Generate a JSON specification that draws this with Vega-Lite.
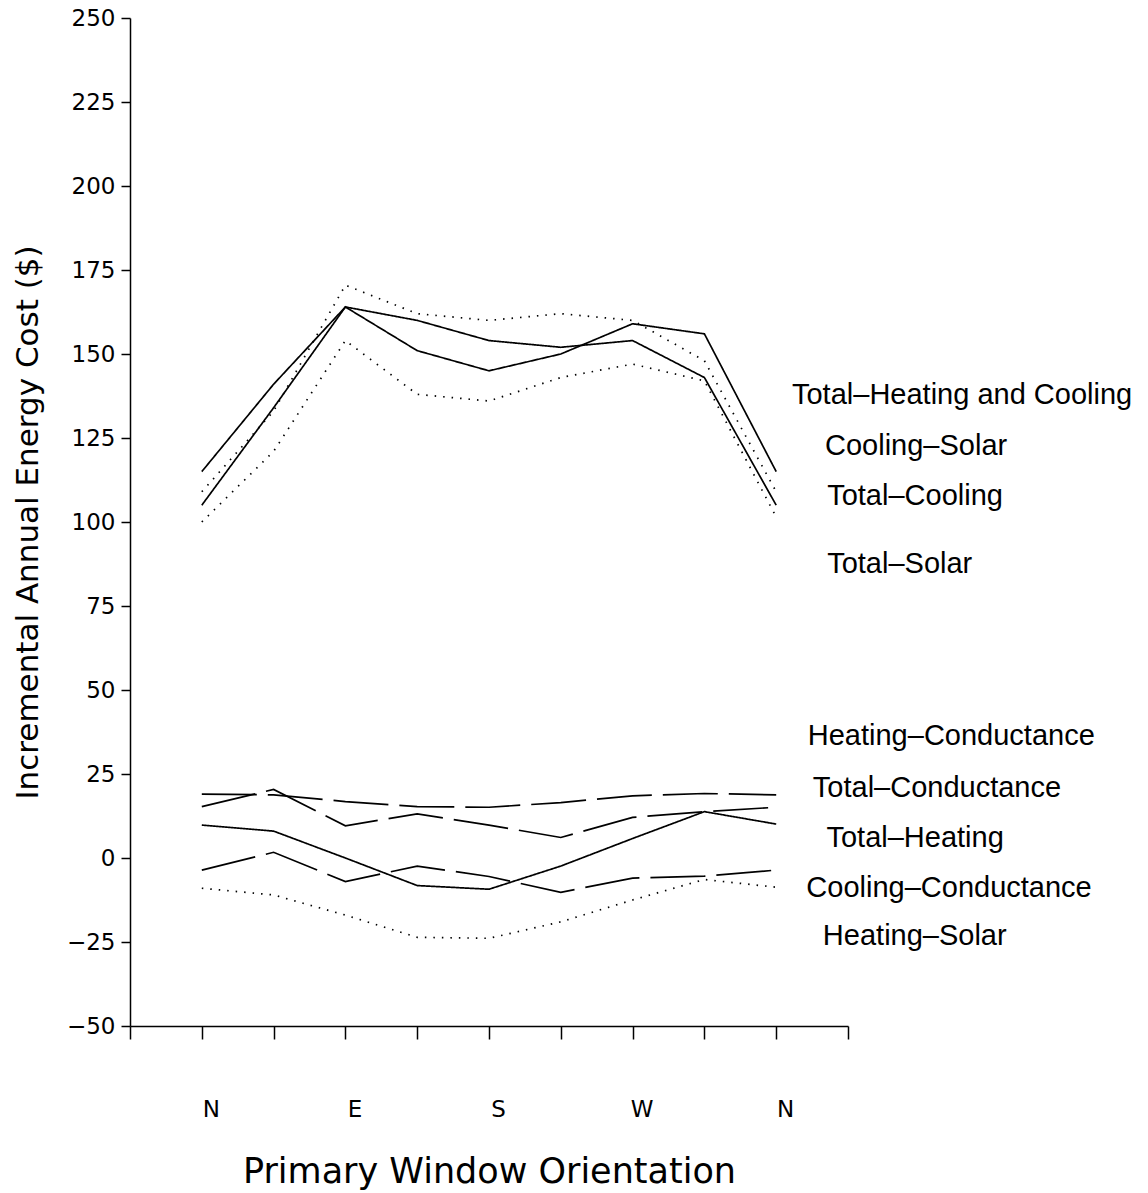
{
  "$schema": "https://vega.github.io/schema/vega-lite/v6.json",
  "width": 718,
  "height": 1008,
  "autosize": "none",
  "padding": {"left": 130, "top": 18, "right": 300, "bottom": 167},
  "background": "white",
  "config": {
    "view": {"stroke": null},
    "axis": {"grid": false, "domainColor": "black", "tickColor": "black", "labelColor": "black", "titleColor": "black", "titleFontWeight": "normal"}
  },
  "datasets": {
    "series": [
      {"series": "Total–Heating and Cooling", "dir": "N", "o": 0, "cost": 115},
      {"series": "Total–Heating and Cooling", "dir": "NE", "o": 1, "cost": 141},
      {"series": "Total–Heating and Cooling", "dir": "E", "o": 2, "cost": 164},
      {"series": "Total–Heating and Cooling", "dir": "SE", "o": 3, "cost": 151},
      {"series": "Total–Heating and Cooling", "dir": "S", "o": 4, "cost": 145},
      {"series": "Total–Heating and Cooling", "dir": "SW", "o": 5, "cost": 150},
      {"series": "Total–Heating and Cooling", "dir": "W", "o": 6, "cost": 159},
      {"series": "Total–Heating and Cooling", "dir": "NW", "o": 7, "cost": 156},
      {"series": "Total–Heating and Cooling", "dir": "N", "o": 8, "cost": 115},
      {"series": "Total–Cooling", "dir": "N", "o": 0, "cost": 105},
      {"series": "Total–Cooling", "dir": "NE", "o": 1, "cost": 134},
      {"series": "Total–Cooling", "dir": "E", "o": 2, "cost": 164},
      {"series": "Total–Cooling", "dir": "SE", "o": 3, "cost": 160},
      {"series": "Total–Cooling", "dir": "S", "o": 4, "cost": 154},
      {"series": "Total–Cooling", "dir": "SW", "o": 5, "cost": 152},
      {"series": "Total–Cooling", "dir": "W", "o": 6, "cost": 154},
      {"series": "Total–Cooling", "dir": "NW", "o": 7, "cost": 143},
      {"series": "Total–Cooling", "dir": "N", "o": 8, "cost": 105},
      {"series": "Cooling–Solar", "dir": "N", "o": 0, "cost": 109},
      {"series": "Cooling–Solar", "dir": "NE", "o": 1, "cost": 133},
      {"series": "Cooling–Solar", "dir": "E", "o": 2, "cost": 170.5},
      {"series": "Cooling–Solar", "dir": "SE", "o": 3, "cost": 162},
      {"series": "Cooling–Solar", "dir": "S", "o": 4, "cost": 160},
      {"series": "Cooling–Solar", "dir": "SW", "o": 5, "cost": 162},
      {"series": "Cooling–Solar", "dir": "W", "o": 6, "cost": 160},
      {"series": "Cooling–Solar", "dir": "NW", "o": 7, "cost": 148},
      {"series": "Cooling–Solar", "dir": "N", "o": 8, "cost": 109},
      {"series": "Total–Solar", "dir": "N", "o": 0, "cost": 100},
      {"series": "Total–Solar", "dir": "NE", "o": 1, "cost": 121},
      {"series": "Total–Solar", "dir": "E", "o": 2, "cost": 154},
      {"series": "Total–Solar", "dir": "SE", "o": 3, "cost": 138},
      {"series": "Total–Solar", "dir": "S", "o": 4, "cost": 136},
      {"series": "Total–Solar", "dir": "SW", "o": 5, "cost": 143},
      {"series": "Total–Solar", "dir": "W", "o": 6, "cost": 147},
      {"series": "Total–Solar", "dir": "NW", "o": 7, "cost": 142},
      {"series": "Total–Solar", "dir": "N", "o": 8, "cost": 101.5},
      {"series": "Heating–Conductance", "dir": "N", "o": 0, "cost": 19},
      {"series": "Heating–Conductance", "dir": "NE", "o": 1, "cost": 18.8},
      {"series": "Heating–Conductance", "dir": "E", "o": 2, "cost": 16.8},
      {"series": "Heating–Conductance", "dir": "SE", "o": 3, "cost": 15.3},
      {"series": "Heating–Conductance", "dir": "S", "o": 4, "cost": 15.1},
      {"series": "Heating–Conductance", "dir": "SW", "o": 5, "cost": 16.5},
      {"series": "Heating–Conductance", "dir": "W", "o": 6, "cost": 18.5},
      {"series": "Heating–Conductance", "dir": "NW", "o": 7, "cost": 19.2},
      {"series": "Heating–Conductance", "dir": "N", "o": 8, "cost": 18.8},
      {"series": "Total–Conductance", "dir": "N", "o": 0, "cost": 15.3},
      {"series": "Total–Conductance", "dir": "NE", "o": 1, "cost": 20.4},
      {"series": "Total–Conductance", "dir": "E", "o": 2, "cost": 9.6},
      {"series": "Total–Conductance", "dir": "SE", "o": 3, "cost": 13.1},
      {"series": "Total–Conductance", "dir": "S", "o": 4, "cost": 9.8},
      {"series": "Total–Conductance", "dir": "SW", "o": 5, "cost": 6.1},
      {"series": "Total–Conductance", "dir": "W", "o": 6, "cost": 12.1},
      {"series": "Total–Conductance", "dir": "NW", "o": 7, "cost": 13.8},
      {"series": "Total–Conductance", "dir": "N", "o": 8, "cost": 15.1},
      {"series": "Total–Heating", "dir": "N", "o": 0, "cost": 9.8},
      {"series": "Total–Heating", "dir": "NE", "o": 1, "cost": 8},
      {"series": "Total–Heating", "dir": "E", "o": 2, "cost": 0},
      {"series": "Total–Heating", "dir": "SE", "o": 3, "cost": -8.2},
      {"series": "Total–Heating", "dir": "S", "o": 4, "cost": -9.3},
      {"series": "Total–Heating", "dir": "SW", "o": 5, "cost": -2.4},
      {"series": "Total–Heating", "dir": "W", "o": 6, "cost": 5.8},
      {"series": "Total–Heating", "dir": "NW", "o": 7, "cost": 13.8},
      {"series": "Total–Heating", "dir": "N", "o": 8, "cost": 10.1},
      {"series": "Cooling–Conductance", "dir": "N", "o": 0, "cost": -3.6},
      {"series": "Cooling–Conductance", "dir": "NE", "o": 1, "cost": 1.7},
      {"series": "Cooling–Conductance", "dir": "E", "o": 2, "cost": -7},
      {"series": "Cooling–Conductance", "dir": "SE", "o": 3, "cost": -2.4},
      {"series": "Cooling–Conductance", "dir": "S", "o": 4, "cost": -5.5},
      {"series": "Cooling–Conductance", "dir": "SW", "o": 5, "cost": -10.2},
      {"series": "Cooling–Conductance", "dir": "W", "o": 6, "cost": -6},
      {"series": "Cooling–Conductance", "dir": "NW", "o": 7, "cost": -5.4},
      {"series": "Cooling–Conductance", "dir": "N", "o": 8, "cost": -3.6},
      {"series": "Heating–Solar", "dir": "N", "o": 0, "cost": -9},
      {"series": "Heating–Solar", "dir": "NE", "o": 1, "cost": -11},
      {"series": "Heating–Solar", "dir": "E", "o": 2, "cost": -17},
      {"series": "Heating–Solar", "dir": "SE", "o": 3, "cost": -23.6},
      {"series": "Heating–Solar", "dir": "S", "o": 4, "cost": -23.9},
      {"series": "Heating–Solar", "dir": "SW", "o": 5, "cost": -19},
      {"series": "Heating–Solar", "dir": "W", "o": 6, "cost": -12.5},
      {"series": "Heating–Solar", "dir": "NW", "o": 7, "cost": -6.4},
      {"series": "Heating–Solar", "dir": "N", "o": 8, "cost": -8.7}
    ],
    "labels": [
      {"label": "Total–Heating and Cooling", "o": 8.22, "cost": 135.1},
      {"label": "Cooling–Solar", "o": 8.68, "cost": 119.9},
      {"label": "Total–Cooling", "o": 8.71, "cost": 105.1},
      {"label": "Total–Solar", "o": 8.71, "cost": 84.8},
      {"label": "Heating–Conductance", "o": 8.44, "cost": 33.6},
      {"label": "Total–Conductance", "o": 8.51, "cost": 18.2},
      {"label": "Total–Heating", "o": 8.7, "cost": 3.4},
      {"label": "Cooling–Conductance", "o": 8.42, "cost": -11.5},
      {"label": "Heating–Solar", "o": 8.65, "cost": -25.9}
    ]
  },
  "layer": [
    {
      "data": {"name": "series"},
      "mark": {"type": "line", "color": "black", "strokeWidth": 1.7},
      "encoding": {
        "x": {
          "field": "o", "type": "quantitative",
          "scale": {"domain": [-1, 9], "nice": false, "zero": false},
          "axis": {
            "title": "Primary Window Orientation",
            "values": [-1, 0, 1, 2, 3, 4, 5, 6, 7, 8, 9],
            "labelExpr": "datum.value==0||datum.value==8?'N':datum.value==2?'E':datum.value==4?'S':datum.value==6?'W':''",
            "tickSize": 13, "tickWidth": 1.5, "domainWidth": 1.5,
            "labelFont": "DejaVu Sans", "labelFontSize": 23, "labelPadding": 59, "labelOffset": 9,
            "labelFlush": false, "labelOverlap": false,
            "titleFont": "DejaVu Sans", "titleFontSize": 35, "titlePadding": 33
          }
        },
        "y": {
          "field": "cost", "type": "quantitative",
          "scale": {"domain": [-50, 250], "nice": false, "zero": false},
          "axis": {
            "title": "Incremental Annual Energy Cost ($)",
            "values": [-50, -25, 0, 25, 50, 75, 100, 125, 150, 175, 200, 225, 250],
            "tickSize": 9, "tickWidth": 1.5, "domainWidth": 1.5,
            "labelFont": "DejaVu Sans", "labelFontSize": 23, "labelPadding": 6,
            "labelFlush": false, "labelOverlap": false,
            "titleFont": "DejaVu Sans", "titleFontSize": 31, "titlePadding": 22
          }
        },
        "detail": {"field": "series", "type": "nominal"},
        "order": {"field": "o", "type": "quantitative"},
        "strokeDash": {
          "field": "series", "type": "nominal", "legend": null,
          "scale": {
            "domain": ["Total–Heating and Cooling", "Total–Cooling", "Cooling–Solar", "Total–Solar", "Heating–Conductance", "Total–Conductance", "Total–Heating", "Cooling–Conductance", "Heating–Solar"],
            "range": [[1, 0], [1, 0], [1.5, 7], [1.5, 7], [55, 11], [55, 11], [1, 0], [55, 11], [1.5, 7]]
          }
        }
      }
    },
    {
      "mark": {"type": "rule", "color": "black", "strokeWidth": 1.5},
      "encoding": {"y": {"datum": 0}}
    },
    {
      "data": {"name": "labels"},
      "mark": {"type": "text", "align": "left", "baseline": "alphabetic", "font": "Liberation Sans", "fontSize": 29, "color": "black"},
      "encoding": {
        "x": {"field": "o", "type": "quantitative"},
        "y": {"field": "cost", "type": "quantitative"},
        "text": {"field": "label"}
      }
    }
  ]
}
